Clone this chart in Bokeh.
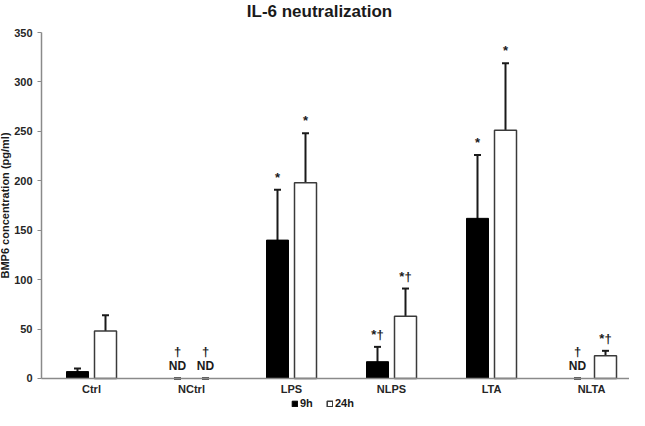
from bokeh.plotting import figure
from bokeh.models import (ColumnDataSource, Whisker, TeeHead, Label, Legend, LegendItem,
                          FixedTicker, CDSView, BooleanFilter, Range1d)
from bokeh.core.properties import value
from bokeh.embed import file_html
from bokeh.resources import INLINE

# ---- data ----
categories = ["Ctrl", "NCtrl", "LPS", "NLPS", "LTA", "NLTA"]
mean_9h = [7, 0, 140, 17, 162, 0]
sd_9h = [3, 0, 51, 15, 64, 0]
mean_24h = [48, 0, 198, 63, 251, 23]
sd_24h = [16, 0, 50, 28, 68, 5]
sig_9h = ["", "†", "*", "*†", "*", "†"]
sig_24h = ["", "†", "*", "*†", "*", "*†"]
nd_9h = [False, True, False, False, False, True]
nd_24h = [False, True, False, False, False, False]
y_ticks = [0, 50, 100, 150, 200, 250, 300, 350]
title_text = "IL-6 neutralization"
y_label = "BMP6 concentration (pg/ml)"

FONT = "Liberation Sans"
OFF = 0.14
W = 0.22
INK = "#1a1a1a"
AXIS = "#8a8a8a"

# the frame spans the whole figure; axes are pinned at fixed locations inside it
p = figure(width=629, height=410, output_backend="svg", toolbar_location=None,
           x_range=Range1d(-0.91, 5.38), y_range=Range1d(-32.37, 382.37),
           min_border=0)
p.outline_line_color = None
p.xgrid.grid_line_color = None
p.ygrid.grid_line_color = None


def build(means, sds, sigs, nds, shift):
    n = len(means)
    return ColumnDataSource(dict(
        x=[i + shift for i in range(n)],
        top=means,
        upper=[m + s for m, s in zip(means, sds)],
        lower=[m - s for m, s in zip(means, sds)],
        sig=[("" if nd else s) for s, nd in zip(sigs, nds)],
        ndsig=[(s if nd else "") for s, nd in zip(sigs, nds)],
        nd=[("ND" if nd else "") for nd in nds],
        zero=[0] * n,
    )), [m > 0 for m in means]


src9, keep9 = build(mean_9h, sd_9h, sig_9h, nd_9h, -OFF)
src24, keep24 = build(mean_24h, sd_24h, sig_24h, nd_24h, OFF)

r9 = p.vbar(x="x", top="top", width=W, source=src9, view=CDSView(filter=BooleanFilter(keep9)),
            fill_color="black", line_color="black", line_width=1)
r24 = p.vbar(x="x", top="top", width=W, source=src24, view=CDSView(filter=BooleanFilter(keep24)),
             fill_color="white", line_color="#3a3a3a", line_width=1.5)

for src in (src9, src24):
    wk = Whisker(base="x", upper="upper", lower="lower", source=src,
                 line_color=INK, line_width=2,
                 upper_head=TeeHead(size=7, line_width=2, line_color=INK),
                 lower_head=TeeHead(size=7, line_width=2, line_color=INK))
    p.add_layout(wk)
    p.text(x="x", y="upper", text="sig", source=src, text_font=value(FONT),
           text_font_style="bold", text_font_size="13px", text_align="center",
           text_baseline="bottom", y_offset=-5, text_color=INK)
    p.text(x="x", y="zero", text="nd", source=src, text_font=value(FONT),
           text_font_style="bold", text_font_size="12px", text_align="center",
           text_baseline="bottom", y_offset=-5, text_color=INK)
    p.text(x="x", y="zero", text="ndsig", source=src, text_font=value(FONT),
           text_font_style="bold", text_font_size="13px", text_align="center",
           text_baseline="bottom", y_offset=-19, text_color=INK)

# x axis pinned at y = 0
ax = p.xaxis[0]
ax.fixed_location = 0
ax.bounds = (-0.5, 5.5)
ax.ticker = FixedTicker(ticks=list(range(len(categories))))
ax.major_label_overrides = {i: c for i, c in enumerate(categories)}
ax.major_tick_line_color = None
ax.major_tick_out = 0
ax.major_tick_in = 0
ax.minor_tick_line_color = None
ax.axis_line_color = AXIS
ax.axis_line_width = 1.5
ax.major_label_text_font = FONT
ax.major_label_text_font_style = "bold"
ax.major_label_text_font_size = "11px"
ax.major_label_text_color = "#262626"
ax.major_label_standoff = 5

# y axis pinned at the left edge of the first category
ay = p.yaxis[0]
ay.fixed_location = -0.5
ay.bounds = (0, 350)
ay.ticker = FixedTicker(ticks=y_ticks)
ay.minor_tick_line_color = None
ay.major_tick_in = 0
ay.major_tick_out = 4
ay.major_tick_line_color = AXIS
ay.axis_line_color = AXIS
ay.axis_line_width = 1.5
ay.major_label_text_font = FONT
ay.major_label_text_font_style = "bold"
ay.major_label_text_font_size = "11px"
ay.major_label_text_color = "#262626"
ay.major_label_standoff = 5
ay.axis_label = y_label
ay.axis_label_text_font = FONT
ay.axis_label_text_font_style = "bold"
ay.axis_label_text_font_size = "11px"
ay.axis_label_text_color = INK
ay.axis_label_standoff = 0

# title
p.add_layout(Label(x=2.28, y=371, text=title_text, text_font=FONT, text_font_style="bold",
                   text_font_size="17px", text_align="center", text_baseline="middle",
                   text_color=INK))

legend = Legend(items=[LegendItem(label="9h", renderers=[r9]),
                       LegendItem(label="24h", renderers=[r24])],
                orientation="horizontal", location=(291, 1),
                glyph_width=7, glyph_height=7, label_standoff=2, spacing=6,
                padding=0, margin=0, border_line_alpha=0, background_fill_alpha=0,
                label_text_font=FONT, label_text_font_style="bold",
                label_text_font_size="11px", label_text_color=INK,
                label_height=10)
p.add_layout(legend)

open("out.html", "w").write(file_html(p, INLINE))
